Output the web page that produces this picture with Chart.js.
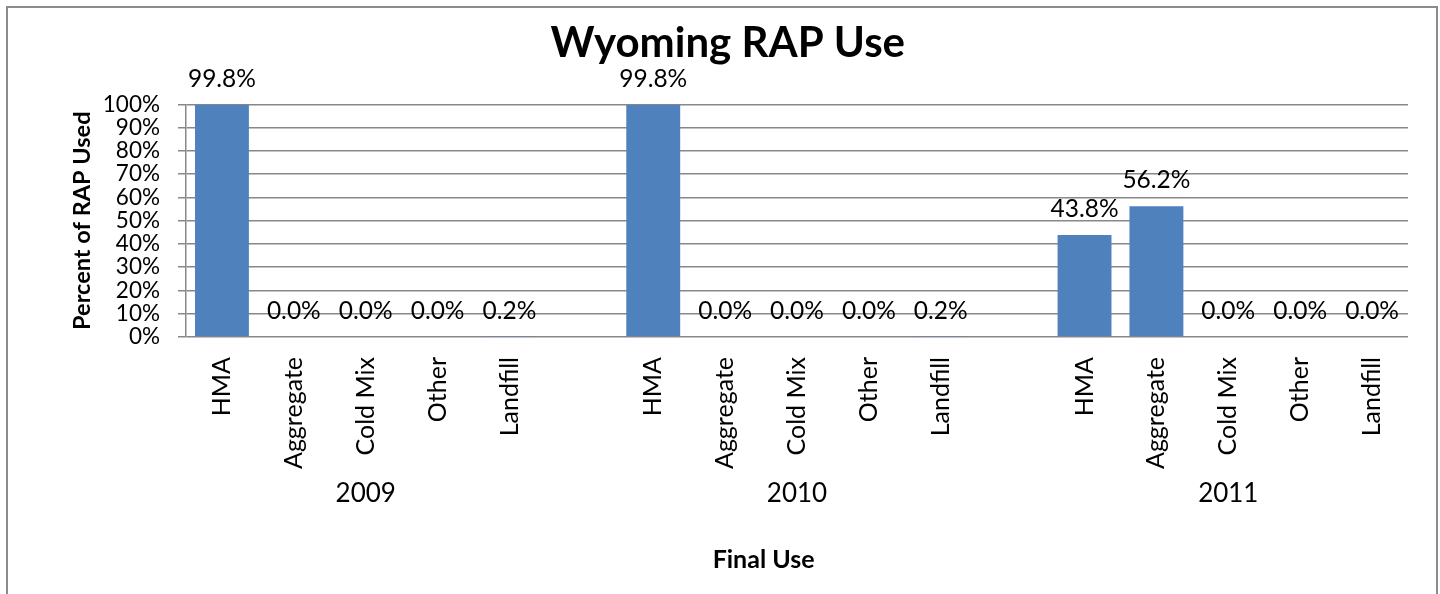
<!DOCTYPE html>
<html>
<head>
<meta charset="utf-8">
<title>Wyoming RAP Use</title>
<script src="https://cdn.jsdelivr.net/npm/chart.js@4.4.1/dist/chart.umd.min.js"></script>
<style>
  html, body { margin: 0; padding: 0; background: #fff; overflow: hidden; }
  #wrap { position: relative; width: 1440px; height: 594px; }
  #frame { position: absolute; left: 6px; top: 6px; width: 1428px; height: 700px; border: 2px solid #8c8c8c; pointer-events: none; }
</style>
</head>
<body>
<div id="wrap">
  <canvas id="rapChart" width="1440" height="594"></canvas>
  <div id="frame"></div>
</div>
<script>
// ---------- DATA ----------
const finalUses = ["HMA", "Aggregate", "Cold Mix", "Other", "Landfill"];
const years = ["2009", "2010", "2011"];
const use2009 = [99.8, 0.0, 0.0, 0.0, 0.2];
const use2010 = [99.8, 0.0, 0.0, 0.0, 0.2];
const use2011 = [43.8, 56.2, 0.0, 0.0, 0.0];
const yTickValues = [0, 10, 20, 30, 40, 50, 60, 70, 80, 90, 100];

// one empty slot between the year groups, year name under the middle bar
const labels = [];
const values = [];
const yearRow = [];
[use2009, use2010, use2011].forEach((vals, g) => {
  if (g > 0) {
    labels.push("");
    values.push(null);
    yearRow.push("");
  }
  finalUses.forEach((u, i) => {
    labels.push(u);
    values.push(vals[i]);
    yearRow.push(i === 2 ? years[g] : "");
  });
});

const GRID = "#888888";
// trailing no-break spaces nudge the centred titles a bit to the left, like the original
const pad = (n) => "\u00a0".repeat(n);

// ---------- VALUE LABELS ----------
const valueLabels = {
  id: "valueLabels",
  afterDatasetsDraw(chart) {
    const ctx = chart.ctx;
    const meta = chart.getDatasetMeta(0);
    ctx.save();
    ctx.font = "24.5px Lato";
    ctx.fillStyle = "#000";
    ctx.textAlign = "center";
    ctx.textBaseline = "alphabetic";
    meta.data.forEach((bar, i) => {
      const v = values[i];
      if (v === null) return;
      ctx.fillText(v.toFixed(1) + "%", bar.x, bar.y - 18);
    });
    ctx.restore();
  }
};

// ---------- CHART ----------
const ctx = document.getElementById("rapChart").getContext("2d");
new Chart(ctx, {
  type: "bar",
  data: {
    labels: labels,
    datasets: [{
      data: values,
      backgroundColor: "#4F81BD",
      borderWidth: 0,
      barPercentage: 0.75,
      categoryPercentage: 1
    }]
  },
  options: {
    responsive: false,
    animation: false,
    devicePixelRatio: 1,
    layout: { padding: { left: 68, right: 32, top: 0, bottom: 10 } },
    plugins: {
      legend: { display: false },
      tooltip: { enabled: false },
      title: {
        display: true,
        text: "Wyoming RAP Use" + pad(2),
        color: "#000",
        font: { family: "Lato", size: 42, weight: "bold" },
        padding: { top: 18, bottom: 36 }
      }
    },
    scales: {
      x: {
        grid: { display: false },
        border: { display: false },
        ticks: {
          color: "#000",
          font: { family: "Lato", size: 25 },
          minRotation: 90,
          maxRotation: 90,
          autoSkip: false,
          padding: 12
        },
        afterFit: (scale) => { scale.height = 133; }
      },
      x2: {
        type: "category",
        labels: yearRow,
        position: "bottom",
        offset: true,
        weight: 1,
        grid: { display: false },
        border: { display: false },
        ticks: {
          color: "#000",
          font: { family: "Lato", size: 26 },
          autoSkip: false,
          maxRotation: 0,
          padding: 0
        },
        title: {
          display: true,
          text: "Final Use" + pad(11),
          color: "#000",
          font: { family: "Lato", size: 25, weight: "bold" },
          padding: { top: 30, bottom: 9 }
        },
        afterFit: (scale) => { scale.height = 114; }
      },
      y: {
        min: yTickValues[0],
        max: yTickValues[yTickValues.length - 1],
        ticks: {
          stepSize: yTickValues[1] - yTickValues[0],
          autoSkip: false,
          color: "#000",
          font: { family: "Lato", size: 22.5 },
          padding: 18,
          callback: (v) => v + "%"
        },
        grid: { color: GRID, lineWidth: 1.5, tickLength: 8 },
        border: { display: true, color: GRID, width: 1.5 },
        title: {
          display: true,
          text: "Percent of RAP Used",
          color: "#000",
          font: { family: "Lato", size: 23.5, weight: "bold" },
          padding: { top: 0, bottom: 0 }
        },
        afterFit: (scale) => { scale.width = 118; }
      }
    }
  },
  plugins: [valueLabels]
});
</script>
</body>
</html>
